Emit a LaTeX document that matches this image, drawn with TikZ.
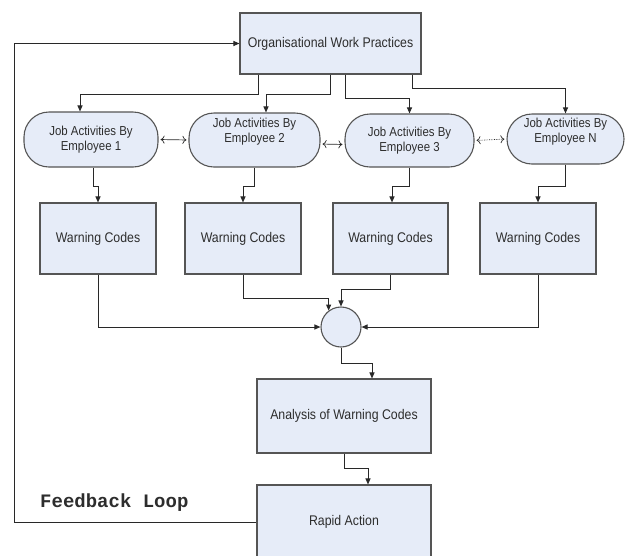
\documentclass[tikz,border=0pt]{standalone}
\usepackage{fontspec}
\newfontfamily\boxfont[FakeStretch=0.88]{Liberation Sans}
\newfontfamily\loopfont{Liberation Mono}
\usetikzlibrary{arrows.meta,calc}
\definecolor{boxfill}{RGB}{230,236,248}
\definecolor{boxdraw}{RGB}{85,85,85}
\definecolor{linecol}{RGB}{40,40,40}
\definecolor{txt}{RGB}{45,45,45}
\begin{document}
\begin{tikzpicture}[x=1pt,y=-1pt,
  box/.style={draw=boxdraw,fill=boxfill,line width=1.1pt,inner sep=0pt,
    font=\boxfont\fontsize{14}{16}\selectfont,text=txt},
  emp/.style={box,rounded corners=25pt},
  emptext/.style={align=center,inner sep=0pt,text=txt,
    font=\boxfont\fontsize{13}{15}\selectfont},
  arr/.style={draw=linecol,line width=1pt,-{Triangle[length=6pt,width=5pt]}},
  dbl/.style={draw=linecol,line width=0.7pt,shorten <=2pt,shorten >=2pt,
    {To[length=4pt,width=8pt]}-{To[length=4pt,width=8pt]}}
]
\useasboundingbox (0,0) rectangle (626,555);

% boxes
\node[box,minimum width=181pt,minimum height=61pt] (top) at (330.5,43.5) {Organisational Work Practices};

\node[emp,minimum width=134pt,minimum height=55pt,
  label={[emptext]center:Job Activities By\\Employee 1}] (e1) at (91,139.5) {};
\node[emp,minimum width=131pt,minimum height=54pt,
  label={[emptext,yshift=8pt]center:Job Activities By\\Employee 2}] (e2) at (254.5,140) {};
\node[emp,minimum width=129pt,minimum height=53pt,
  label={[emptext]center:Job Activities By\\Employee 3}] (e3) at (409.5,140.5) {};
\node[emp,minimum width=117pt,minimum height=50pt,
  label={[emptext,yshift=7pt]center:Job Activities By\\Employee N}] (eN) at (565.5,139) {};

\node[box,minimum width=116pt,minimum height=71pt] (w1) at (98,238.5) {Warning Codes};
\node[box,minimum width=116pt,minimum height=71pt] (w2) at (243,238.5) {Warning Codes};
\node[box,minimum width=115pt,minimum height=71pt] (w3) at (390.5,238.5) {Warning Codes};
\node[box,minimum width=116pt,minimum height=71pt] (w4) at (538,238.5) {Warning Codes};

\node[draw=boxdraw,fill=boxfill,line width=1.1pt,circle,minimum size=40pt,inner sep=0pt] (c) at (341,327) {};

\node[box,minimum width=174pt,minimum height=74pt] (ana) at (344,416) {Analysis of Warning Codes};
\node[box,minimum width=174pt,minimum height=74pt] (rap) at (344,522) {Rapid Action};

\node[anchor=west,inner sep=0pt,text=txt,
  font=\loopfont\bfseries\fontsize{19}{19}\selectfont] (fbl) at (40,503) {Feedback Loop};

% connectors from top
\draw[arr] ([xshift=-72.5pt]top.south) -- ++(0,20) -| ([xshift=-11pt]e1.north);
\draw[arr] ([xshift=-0.5pt]top.south) -- ++(0,20) -| ([xshift=11.5pt]e2.north);
\draw[arr] ([xshift=14.5pt]top.south) -- ++(0,24) -| (e3.north);
\draw[arr] ([xshift=81.5pt]top.south) -- ++(0,14) -| (eN.north);

% between employees
\draw[dbl] (e1.east) -- (e2.west);
\draw[dbl] ([yshift=-4pt]e2.east) -- ([yshift=-4pt]e3.west);
\draw[dbl,densely dotted] (e3.east) -- (eN.west);

% employees to warning codes
\draw[arr] ([xshift=2pt]e1.south) -- ++(0,19) -| (w1.north);
\draw[arr] (e2.south) -- ++(0,19) -| (w2.north);
\draw[arr] (e3.south) -- ++(0,19) -| ([xshift=1.5pt]w3.north);
\draw[arr] (eN.south) -- ++(0,22) -| (w4.north);

% warning codes to circle
\draw[arr] (w1.south) |- (c.west);
\draw[arr] (w2.south) -- ++(0,24) -| (c.127);
\draw[arr] (w3.south) -- ++(0,15) -| (c.north);
\draw[arr] (w4.south) |- (c.east);

% circle to analysis to action
\draw[arr] (c.south) -- ++(0,16) -| ([xshift=28pt]ana.north);
\draw[arr] (ana.south) -- ++(0,15) -| ([xshift=24pt]rap.north);

% feedback loop
\coordinate (fbc) at (14,43.5);
\draw[arr] (rap.west) -| (fbc) -- (top.west);
\end{tikzpicture}
\end{document}
